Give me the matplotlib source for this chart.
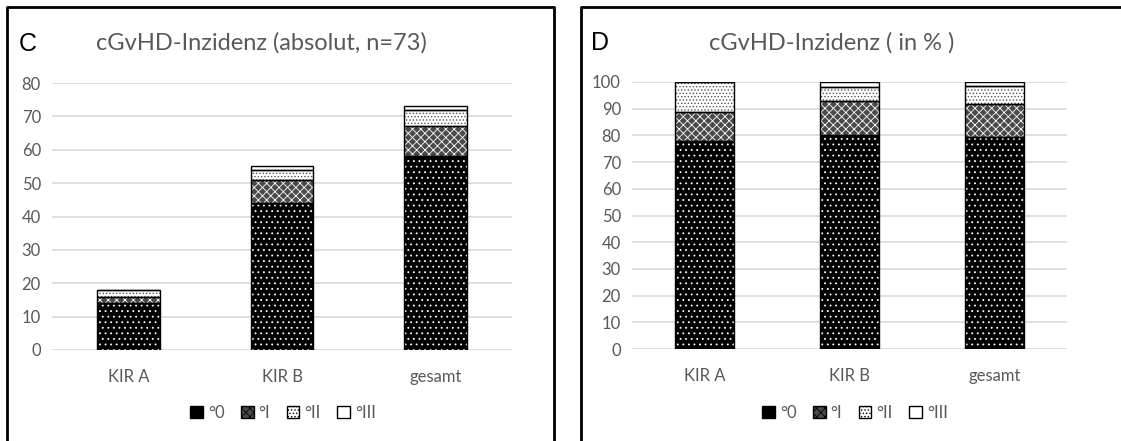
import matplotlib
matplotlib.use('Agg')
import matplotlib.pyplot as plt
from matplotlib.patches import Patch
from matplotlib.lines import Line2D

W, H = 1121, 441

categories = ['KIR A', 'KIR B', 'gesamt']
grades = ['°0', '°I', '°II', '°III']

# absolute counts per grade (n=73)
abs_vals = {
    '°0': [14, 44, 58],
    '°I': [2, 7, 9],
    '°II': [2, 3, 5],
    '°III': [0, 1, 1],
}
# percentages per grade
pct_vals = {
    '°0': [77.8, 80.0, 79.5],
    '°I': [11.1, 12.7, 12.3],
    '°II': [11.1, 5.5, 6.8],
    '°III': [0.0, 1.8, 1.4],
}

# face colour, hatch colour, hatch pattern
STYLE = {
    '°0': ('black', 'white', '...'),
    '°I': ('#4a4a4a', 'white', 'xxxx'),
    '°II': ('white', '#555555', '.....'),
    '°III': ('white', '#222222', ''),
}

TXT = '#595959'
plt.rcParams['hatch.linewidth'] = 0.6
plt.rcParams['font.family'] = ['Lato', 'DejaVu Sans']

fig = plt.figure(figsize=(W / 100, H / 100), dpi=100)


def px_axes(x0, y0, x1, y1):
    return fig.add_axes([x0 / W, 1 - y1 / H, (x1 - x0) / W, (y1 - y0) / H])


def draw_panel(ax, data, ymax, step):
    x = range(len(categories))
    bottom = [0] * len(categories)
    for g in grades:
        fc, hc, hatch = STYLE[g]
        ax.bar(x, data[g], 0.41, bottom=bottom, color=fc, edgecolor=hc,
               hatch=hatch, lw=0, zorder=3)
        ax.bar(x, data[g], 0.41, bottom=bottom, facecolor='none',
               edgecolor='black', lw=1.0, zorder=4)
        bottom = [b + v for b, v in zip(bottom, data[g])]
    ax.set_xlim(-0.5, 2.5)
    ax.set_ylim(0, ymax)
    ax.set_yticks(range(0, ymax + 1, step))
    ax.set_xticks(list(x))
    ax.set_xticklabels(categories)
    ax.grid(axis='y', color='#d9d9d9', lw=1.2, zorder=0)
    for s in ax.spines.values():
        s.set_visible(False)
    ax.tick_params(length=0, colors=TXT, labelsize=12, pad=8)
    ax.tick_params(axis='x', pad=14)


axC = px_axes(52, 83, 512, 350)
draw_panel(axC, abs_vals, 80, 10)
axD = px_axes(632, 82, 1067, 349)
draw_panel(axD, pct_vals, 100, 10)

# titles and panel letters
fig.text(261 / W, 1 - 43 / H, 'cGvHD-Inzidenz (absolut, n=73)', ha='center',
         va='center', fontsize=17, color=TXT)
fig.text(832 / W, 1 - 43 / H, 'cGvHD-Inzidenz ( in % )', ha='center',
         va='center', fontsize=17, color=TXT)
fig.text(19 / W, 1 - 44 / H, 'C', ha='left', va='center', fontsize=18,
         color='black', family='Liberation Sans')
fig.text(591 / W, 1 - 43 / H, 'D', ha='left', va='center', fontsize=18,
         color='black', family='Liberation Sans')

# legends
handles = []
for g in grades:
    fc, hc, hatch = STYLE[g]
    handles.append(Patch(facecolor=fc, edgecolor='black', hatch=hatch, lw=1.0))
for cx in (283, 855):
    fig.legend(handles, grades, loc='center', bbox_to_anchor=(cx / W, 1 - 413 / H),
               ncol=4, frameon=False, fontsize=12, handlelength=0.75,
               handleheight=0.75, handletextpad=0.3, columnspacing=1.0,
               labelcolor=TXT)

# panel frames (open at the bottom, like the cropped screenshot)
for xs, ys in [((7, 7, 554, 554), (460, 7, 7, 460)),
               ((581, 581, 1130), (460, 7, 7))]:
    fig.add_artist(Line2D([v / W for v in xs], [1 - v / H for v in ys],
                          color='black', lw=2, transform=fig.transFigure))

fig.savefig('out.png', dpi=100)
